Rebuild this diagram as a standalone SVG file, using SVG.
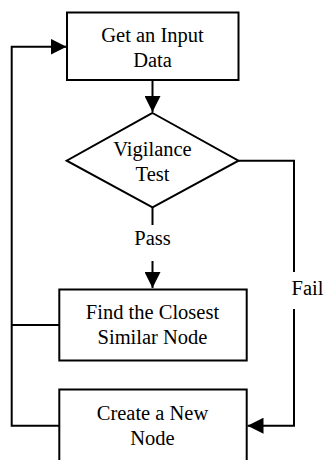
<svg xmlns="http://www.w3.org/2000/svg" width="325" height="460" viewBox="0 0 325 460">
  <defs>
    <marker id="arrow" viewBox="0 0 16 16" refX="16" refY="8" markerWidth="16" markerHeight="16" markerUnits="userSpaceOnUse" orient="auto">
      <path d="M0,0 L16,8 L0,16 Z" fill="#000"/>
    </marker>
    <style>
      .box { fill: #fff; stroke: #000; stroke-width: 2; }
      .line { fill: none; stroke: #000; stroke-width: 2; }
      text { font-family: 'Liberation Serif', 'Times New Roman', serif !important; font-size: 20.5px; fill: #000; }
      .mid { text-anchor: middle; }
    </style>
  </defs>
  <rect width="325" height="460" fill="#fff"/>

  <g id="connectors">
    <!-- input box to decision -->
    <line class="line" x1="152.5" y1="80" x2="152.5" y2="112" marker-end="url(#arrow)"/>
    <!-- pass branch -->
    <line class="line" x1="152.5" y1="207" x2="152.5" y2="225"/>
    <line class="line" x1="152.5" y1="261" x2="152.5" y2="288" marker-end="url(#arrow)"/>
    <!-- fail branch -->
    <polyline class="line" points="238.5,160.7 294,160.7 294,272"/>
    <polyline class="line" points="294,309 294,425.7 247.5,425.7" marker-end="url(#arrow)"/>
    <!-- loop back to input -->
    <polyline class="line" points="59,425.7 11.7,425.7 11.7,46.7 66.5,46.7" marker-end="url(#arrow)"/>
    <line class="line" x1="59" y1="325" x2="11.7" y2="325"/>
    <text class="mid" x="152.5" y="245" style="font-family: 'Liberation Serif', serif">Pass</text>
    <text x="291.5" y="295" style="font-family: 'Liberation Serif', serif">Fail</text>
  </g>

  <g id="input">
    <rect class="box" x="67" y="12.5" width="171.5" height="67.5"/>
    <text class="mid" x="152.5" y="41.5" style="font-family: 'Liberation Serif', serif">Get an Input</text>
    <text class="mid" x="152.5" y="66.5" style="font-family: 'Liberation Serif', serif">Data</text>
  </g>

  <g id="vigilance">
    <polygon class="box" points="152.5,113 238.5,160.7 152.5,207.3 66.7,160.7"/>
    <text class="mid" x="152.5" y="156" style="font-family: 'Liberation Serif', serif">Vigilance</text>
    <text class="mid" x="152.5" y="181" style="font-family: 'Liberation Serif', serif">Test</text>
  </g>

  <g id="closest">
    <rect class="box" x="59.3" y="289.5" width="187.4" height="71"/>
    <text class="mid" x="152.5" y="319" style="font-family: 'Liberation Serif', serif">Find the Closest</text>
    <text class="mid" x="152.5" y="344.3" style="font-family: 'Liberation Serif', serif">Similar Node</text>
  </g>

  <g id="create">
    <rect class="box" x="59.3" y="389.5" width="187.4" height="80"/>
    <text class="mid" x="152.5" y="420" style="font-family: 'Liberation Serif', serif">Create a New</text>
    <text class="mid" x="152.5" y="445" style="font-family: 'Liberation Serif', serif">Node</text>
  </g>
</svg>
